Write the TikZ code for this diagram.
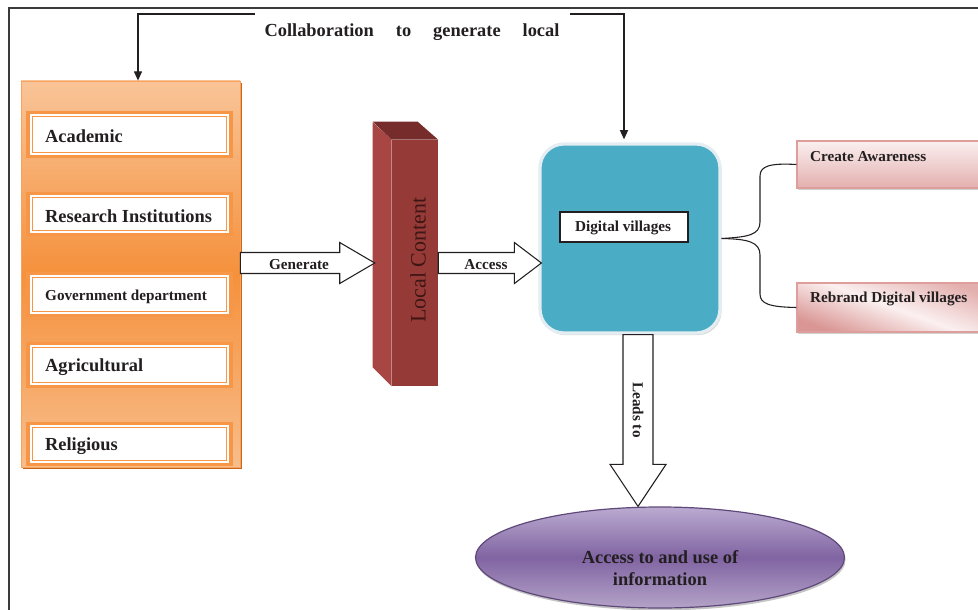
\documentclass[tikz,border=0pt]{standalone}
\usepackage{fontspec}
\setmainfont{Liberation Serif}
\usetikzlibrary{arrows.meta,calc,fit,shapes.geometric,shadows}

\definecolor{ink}{HTML}{231F20}
\definecolor{frameline}{HTML}{3A3A3A}
\definecolor{panelTop}{HTML}{F9C498}
\definecolor{panelMid}{HTML}{F5913C}
\definecolor{panelBot}{HTML}{F8BD8B}
\definecolor{panelEdge}{HTML}{F7A25E}
\definecolor{panelShade}{HTML}{C8661C}
\definecolor{band}{HTML}{F79646}
\definecolor{barLeft}{HTML}{A84644}
\definecolor{barFront}{HTML}{963A38}
\definecolor{barTop}{HTML}{762C2B}
\definecolor{barText}{HTML}{3E1614}
\definecolor{dvblue}{HTML}{4BACC6}
\definecolor{dvedge}{HTML}{E4EEF2}
\definecolor{pinkLight}{HTML}{FBF0F0}
\definecolor{pinkDark}{HTML}{E3AFAE}
\definecolor{pinkDeep}{HTML}{D99694}
\definecolor{pinkEdge}{HTML}{DE9E9C}
\definecolor{purTop}{HTML}{BBAAD0}
\definecolor{purMid}{HTML}{8064A2}
\definecolor{purBot}{HTML}{B4A3C8}
\definecolor{purEdge}{HTML}{5F497A}

% horizontal block arrow: start, tip, shaft half-width, head half-width, head length
\newcommand\blockarrowH[5]{%
  \path[barrow] ($(#1)+(0,-#3)$) -- ($(#2)+(-#5,-#3)$) -- ($(#2)+(-#5,-#4)$) -- (#2)
    -- ($(#2)+(-#5,#4)$) -- ($(#2)+(-#5,#3)$) -- ($(#1)+(0,#3)$) -- cycle;}
% downward block arrow: start, tip, shaft half-width, head half-width, head length
\newcommand\blockarrowV[5]{%
  \path[barrow] ($(#1)+(-#3,0)$) -- ($(#2)+(-#3,-#5)$) -- ($(#2)+(-#4,-#5)$) -- (#2)
    -- ($(#2)+(#4,-#5)$) -- ($(#2)+(#3,-#5)$) -- ($(#1)+(#3,0)$) -- cycle;}

\tikzset{
  bigbold/.style={font=\fontsize{13.8}{16}\selectfont\bfseries, text=ink},
  smallbold/.style={font=\fontsize{11.4}{13}\selectfont\bfseries, text=ink},
  barrow/.style={draw=ink, fill=white, line width=0.8pt, line join=miter},
  collabline/.style={draw=ink, line width=1.1pt, -{Triangle[length=7pt,width=6pt]}},
  bracket/.style={draw=ink, line width=0.8pt},
  panelbox/.style={inner sep=0pt, draw=panelEdge, line width=0.6pt,
    top color=panelTop, bottom color=panelBot, middle color=panelMid},
  bandbox/.style={inner sep=0pt, fill=band},
  whitebox/.style={inner sep=0pt, fill=white, draw=white, line width=0.8pt},
  pinkbox/.style={inner sep=0pt, draw=pinkEdge, line width=0.8pt,
    drop shadow={shadow xshift=0.6pt, shadow yshift=-1.6pt, fill=black!35}},
}

\begin{document}
\begin{tikzpicture}[x=0.75pt,y=-0.75pt]
\useasboundingbox (0,0) rectangle (978,610);
\clip (0,0) rectangle (978,610);
\fill[white] (0,0) rectangle (978,610);

% outer frame
\draw[frameline, line width=1.1pt] (9,612) -- (9,8) -- (980,8);

% ---- partner organisations panel ----
\fill[panelShade] (23,83) rectangle (242,469);
\node[panelbox, fit={(21,81) (240,467)}] (panel) {};

\foreach \t/\b/\n/\txt/\sty in {115/154/ac/Academic/bigbold,
    196/232/ri/Research Institutions/bigbold,
    276/313/gd/Government department/smallbold,
    346/384/ag/Agricultural/bigbold,
    426/462/rl/Religious/bigbold}{
  \node[bandbox, fit={(26,\t-4) (233,\b+4)}] (band-\n) {};
  \node[whitebox, fit={(31,\t) (228,\b)}] (box-\n) {};
  \draw[band, line width=0.9pt] ($(box-\n.north west)+(2,2)$) rectangle ($(box-\n.south east)+(-2,-2)$);
  \node[\sty, anchor=west] (txt-\n) at ($(box-\n.west)+(10,2)$) {\txt};
}

% ---- local content bar ----
\node[inner sep=0pt, fill=barFront, fit={(392,140) (438,386)}] (lc) {};
\fill[barLeft] (lc.north west) -- (lc.south west) -- ++(-19,-19) -- ++(0,-245) -- cycle;
\fill[barTop] (lc.north west) -- ++(-19,-18) -- ++(45,0) -- (lc.north east) -- cycle;
\node[rotate=90, font=\fontsize{16.5}{18}\selectfont, text=barText] (lctext) at (418,260) {Local Content};

% ---- digital villages ----
\node[inner sep=0pt, rounded corners=18pt, fill=dvblue, draw=dvedge, line width=2.4pt,
  drop shadow={shadow xshift=1.2pt, shadow yshift=-1.6pt, fill=black!30},
  fit={(540,144) (720,333)}] (dv) {};
\node[draw=ink, fill=white, line width=0.8pt, minimum width=96pt, minimum height=22.5pt,
  inner sep=0pt] (dvl) at (624,227) {};
\node[smallbold, anchor=west] (dvltext) at ($(dvl.west)+(11,1)$) {Digital villages};

% ---- outcomes on the right ----
\node[pinkbox, top color=pinkLight, bottom color=pinkDark, fit={(797,141) (990,188)}] (ca) {};
\node[smallbold, anchor=west] (catext) at ($(ca.west)+(9,-7.5)$) {Create Awareness};
\node[pinkbox, shading=axis, top color=pinkDark, bottom color=pinkDeep, middle color=pinkLight,
  shading angle=-20, fit={(797,283) (990,332)}] (rb) {};
\node[smallbold, anchor=west] (rbtext) at ($(rb.west)+(9,-8.5)$) {Rebrand Digital villages};

\draw[bracket] (dv.east) .. controls (748,237) and (760,235) .. (760,222) -- (760,176)
  .. controls (760,166) and (770,163) .. (ca.west);
\draw[bracket] (dv.east) .. controls (748,239) and (760,242) .. (760,255) -- (760,294)
  .. controls (760,304) and (770,307) .. (rb.west);

% ---- information ellipse ----
\node[ellipse, inner sep=0pt, minimum width=276.75pt, minimum height=75.75pt,
  draw=purEdge, line width=0.9pt, top color=purTop, bottom color=purBot, middle color=purMid,
  drop shadow={shadow xshift=0.8pt, shadow yshift=-1.8pt, fill=black!45}] (ell) at (660,557.5) {};
\node[bigbold, align=center, font=\fontsize{13.8}{16.5}\selectfont\bfseries] (elltext) at (660,568)
  {Access to and use of\\information};

% ---- block arrows ----
\coordinate (gens) at (panel.east |- lc.west);
\coordinate (gent) at ($(lc.west)+(-17,0)$);
\blockarrowH{gens}{gent}{10.5}{20.5}{35}
\node[smallbold] (gentext) at (299,265) {Generate};

\coordinate (accs) at (lc.east);
\coordinate (acct) at ($(dv.west |- lc.east)+(3,0)$);
\blockarrowH{accs}{acct}{10.5}{20.5}{27}
\node[smallbold] (acctext) at (486,265) {Access};

\coordinate (lds) at ($(dv.south)+(8,0)$);
\coordinate (ldt) at (lds |- ell.north);
\blockarrowV{lds}{ldt}{15}{28}{42}
\node[smallbold, rotate=-90] (ldtext) at (638,410) {Leads to};

% ---- collaboration loop ----
\node[bigbold] (collab) at (412,32)
  {Collaboration\hspace{16.5pt}to\hspace{16.5pt}generate\hspace{16.5pt}local};
\coordinate (cl) at (255,14);
\coordinate (cr) at (570,14);
\draw[collabline] (cl) -| ($(panel.north)+(7.5,0)$);
\draw[collabline] (cr) -| ($(dv.north)+(-6,-3)$);
\end{tikzpicture}
\end{document}
